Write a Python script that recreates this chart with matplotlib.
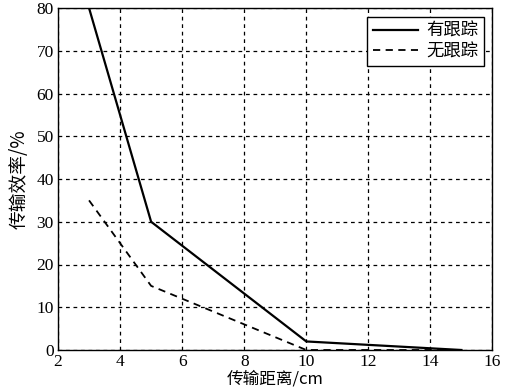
import matplotlib
matplotlib.use("Agg")
import matplotlib.pyplot as plt

distance = [3, 5, 10, 15]
with_tracking = [80, 30, 2, 0]
without_tracking = [35, 15, 0, 0]

x_ticks = [2, 4, 6, 8, 10, 12, 14, 16]
y_ticks = [0, 10, 20, 30, 40, 50, 60, 70, 80]

_CJK = ["Noto Sans CJK SC", "DejaVu Sans"]
_NUM = "Liberation Serif"

fig = plt.figure(figsize=(5.06, 3.92), dpi=100)
ax = fig.add_axes([58 / 506, 1 - 350 / 392, (492.5 - 58) / 506, (350 - 8) / 392])

ax.plot(distance, with_tracking, color="black", lw=1.6, ls="-", label="有跟踪")
ax.plot(distance, without_tracking, color="black", lw=1.3, ls=(0, (4, 3)), label="无跟踪")

ax.set_xlim(2, 16)
ax.set_ylim(0, 80)
ax.set_xticks(x_ticks)
ax.set_yticks(y_ticks)
ax.tick_params(direction="in", length=0, labelsize=12.5, pad=3)
for lab in ax.get_xticklabels() + ax.get_yticklabels():
    lab.set_fontfamily(_NUM)
ax.grid(True, color="black", ls=(0, (3, 3)), lw=0.9)
for sp in ax.spines.values():
    sp.set_linewidth(1.0)

ax.set_xlabel("传输距离/cm", fontsize=12, family=_CJK, labelpad=0)
ax.set_ylabel("传输效率/%", fontsize=13.5, family=_CJK, labelpad=5)

leg = ax.legend(loc="upper right", prop={"family": _CJK, "size": 12.5},
                fancybox=False, edgecolor="black", framealpha=1,
                handlelength=2.6, borderpad=0.3, labelspacing=0.15,
                handletextpad=0.5, borderaxespad=0.5)
leg.get_frame().set_linewidth(1.0)

fig.savefig("out.png", dpi=100)
